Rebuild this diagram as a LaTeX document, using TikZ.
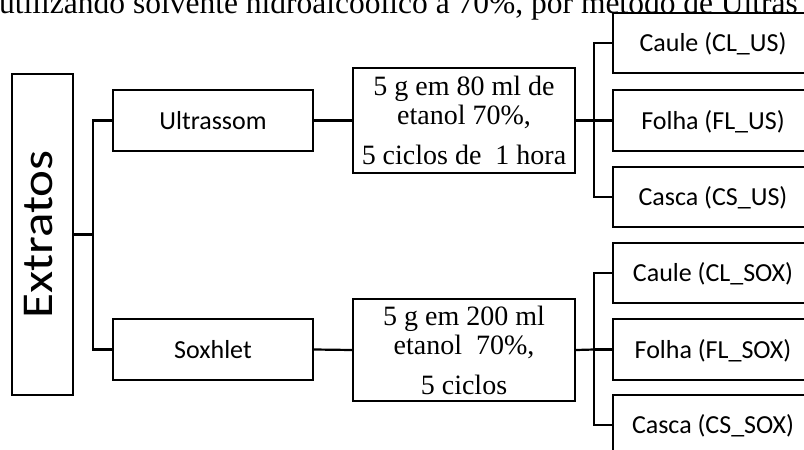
\documentclass[tikz,border=0pt]{standalone}
\usepackage{fontspec}
\setmainfont{Liberation Serif}
\newfontfamily\calfont{Carlito}
\begin{document}
\begin{tikzpicture}[x=1pt,y=-1pt,
  box/.style={draw, line width=2.2pt, inner sep=0pt},
  sbox/.style={box, minimum width=200, minimum height=61,
    font=\calfont\fontsize{26}{30}\selectfont, text height=19pt, text depth=2pt},
  mbox/.style={box, minimum width=222, align=center,
    font=\fontsize{28}{29}\selectfont},
  conn/.style={line width=2.2pt}]
\useasboundingbox (0,0) rectangle (804,450);
\clip (0,0) rectangle (804,450);
% top text line
\node[anchor=base west, inner sep=0pt, font=\fontsize{31.5}{34}\selectfont] (top) at (-1,13)
  {utilizando solvente hidroalcoólico a 70\%, por método de Ultras};
% main boxes
\node[box, rotate=90, minimum width=321, minimum height=61, text height=28pt, text depth=9pt,
  font=\calfont\fontsize{44}{48}\selectfont] (ext) at (42.5,234.5) {\scalebox{1.16}[1]{Extratos}};
\node[sbox] (ultra) at (213,120.5) {Ultrassom};
\node[sbox] (sox) at (213,349.5) {Soxhlet};
\node[mbox, minimum height=105] (m1) at (464,120.5) {5 g em 80 ml de\\etanol 70\%,\\[11pt]5 ciclos de\ \ 1 hora};
\node[mbox, minimum height=102] (m2) at (464,350) {5 g em 200 ml\\etanol\ \ 70\%,\\[11pt]5 ciclos};
\node[sbox, minimum height=60] (clus) at (713,43) {Caule (CL\_US)};
\node[sbox] (flus) at (713,120.5) {Folha (FL\_US)};
\node[sbox, minimum height=60] (csus) at (713,197) {Casca (CS\_US)};
\node[sbox, minimum height=60] (clsox) at (713,273) {Caule (CL\_SOX)};
\node[sbox] (flsox) at (713,349.5) {Folha (FL\_SOX)};
\node[sbox, minimum height=60] (cssox) at (713,425) {Casca (CS\_SOX)};
% junctions
\coordinate (j1) at (93,234.5);
\coordinate (j2) at (594,120.5);
\coordinate (j3) at (594,349.5);
% connectors
\draw[conn] (ext.south) -- (j1);
\draw[conn] (ultra.west) -| (j1);
\draw[conn] (sox.west) -| (j1);
\draw[conn] (ultra.east) -- (m1.west);
\draw[conn] (sox.east) -- (m2.west);
\draw[conn] (m1.east) -- (j2);
\draw[conn] (m2.east) -- (j3);
\draw[conn] (clus.west) -| (j2);
\draw[conn] (flus.west) -- (j2);
\draw[conn] (csus.west) -| (j2);
\draw[conn] (clsox.west) -| (j3);
\draw[conn] (flsox.west) -- (j3);
\draw[conn] (cssox.west) -| (j3);
\end{tikzpicture}
\end{document}
